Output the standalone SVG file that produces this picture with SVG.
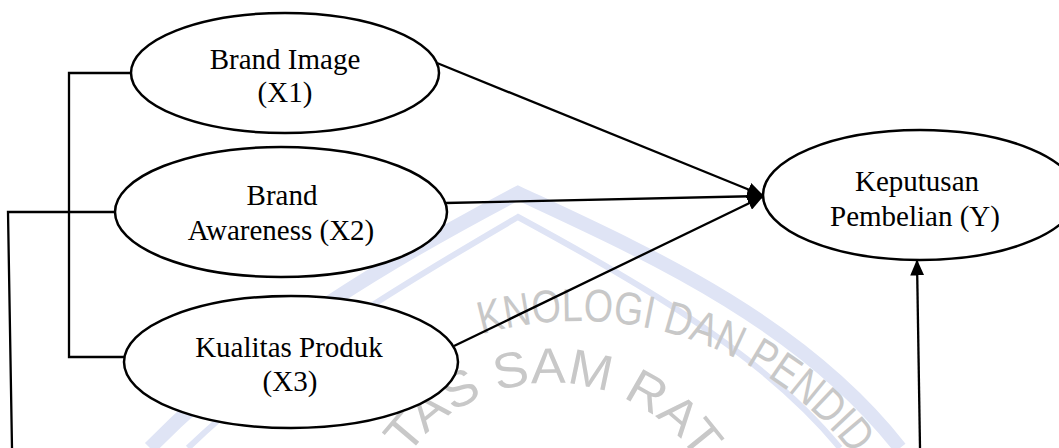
<svg xmlns="http://www.w3.org/2000/svg" width="1059" height="448" viewBox="0 0 1059 448">
  <style>
    .node ellipse { fill: #ffffff; stroke: #000000; stroke-width: 2.5; }
    .node text { font-family: "Liberation Serif", "Times New Roman", serif; font-size: 29px; fill: #000000; text-anchor: middle; }
    .conn { fill: none; stroke: #000000; stroke-width: 2.3; }
    .wm-band { fill: none; stroke: #dfe4f5; }
    .wm-text { font-family: "Liberation Sans", Arial, sans-serif; fill: #c8c8c8; }
  </style>
  <defs>
    <marker id="arrow" markerUnits="userSpaceOnUse" markerWidth="16" markerHeight="14" refX="14.5" refY="7" orient="auto">
      <path d="M0,0 L16,7 L0,14 Z" fill="#000000"/>
    </marker>
    <path id="arcOuter" d="M 481.8 334.5 A 349 349 0 0 1 853 455.1"/>
    <path id="arcInner" d="M 407.8 456 A 177 177 0 0 1 701.1 466.2"/>
  </defs>
  <rect x="0" y="0" width="1059" height="448" fill="#ffffff"/>

  <g id="watermark">
    <path class="wm-band" stroke-width="14" d="M 150 448 C 260 335 400 255 518 193 C 640 250 800 320 900 448"/>
    <path class="wm-band" stroke-width="6" d="M 188 448 C 290 350 410 280 518 217 C 625 275 760 350 840 448"/>
    <text class="wm-text" font-size="46"><textPath href="#arcOuter" textLength="414" lengthAdjust="spacingAndGlyphs">KNOLOGI DAN PENDID</textPath></text>
    <text class="wm-text" font-size="50"><textPath href="#arcInner" textLength="340" lengthAdjust="spacingAndGlyphs">TAS SAM RAT</textPath></text>
  </g>

  <g id="connectors">
    <path class="conn" d="M131,73 H69 V357 H124"/>
    <path class="conn" d="M115,212 H8 L12,448"/>
    <line class="conn" x1="437" y1="63" x2="762" y2="195" marker-end="url(#arrow)"/>
    <line class="conn" x1="445" y1="203" x2="762" y2="196" marker-end="url(#arrow)"/>
    <line class="conn" x1="454" y1="346" x2="762" y2="197" marker-end="url(#arrow)"/>
    <line class="conn" x1="920" y1="448" x2="917" y2="261" marker-end="url(#arrow)"/>
  </g>

  <g id="brand-image" class="node">
    <ellipse cx="285" cy="73" rx="154" ry="60"/>
    <text x="285" y="69">Brand Image</text>
    <text x="285" y="102">(X1)</text>
  </g>

  <g id="brand-awareness" class="node">
    <ellipse cx="281" cy="212" rx="166" ry="65"/>
    <text x="282" y="205">Brand</text>
    <text x="281" y="240">Awareness (X2)</text>
  </g>

  <g id="kualitas-produk" class="node">
    <ellipse cx="291" cy="362" rx="167" ry="66"/>
    <text x="289" y="357">Kualitas Produk</text>
    <text x="290" y="391">(X3)</text>
  </g>

  <g id="keputusan-pembelian" class="node">
    <ellipse cx="920" cy="195" rx="157" ry="65"/>
    <text x="917" y="191">Keputusan</text>
    <text x="915" y="226">Pembelian (Y)</text>
  </g>
</svg>
